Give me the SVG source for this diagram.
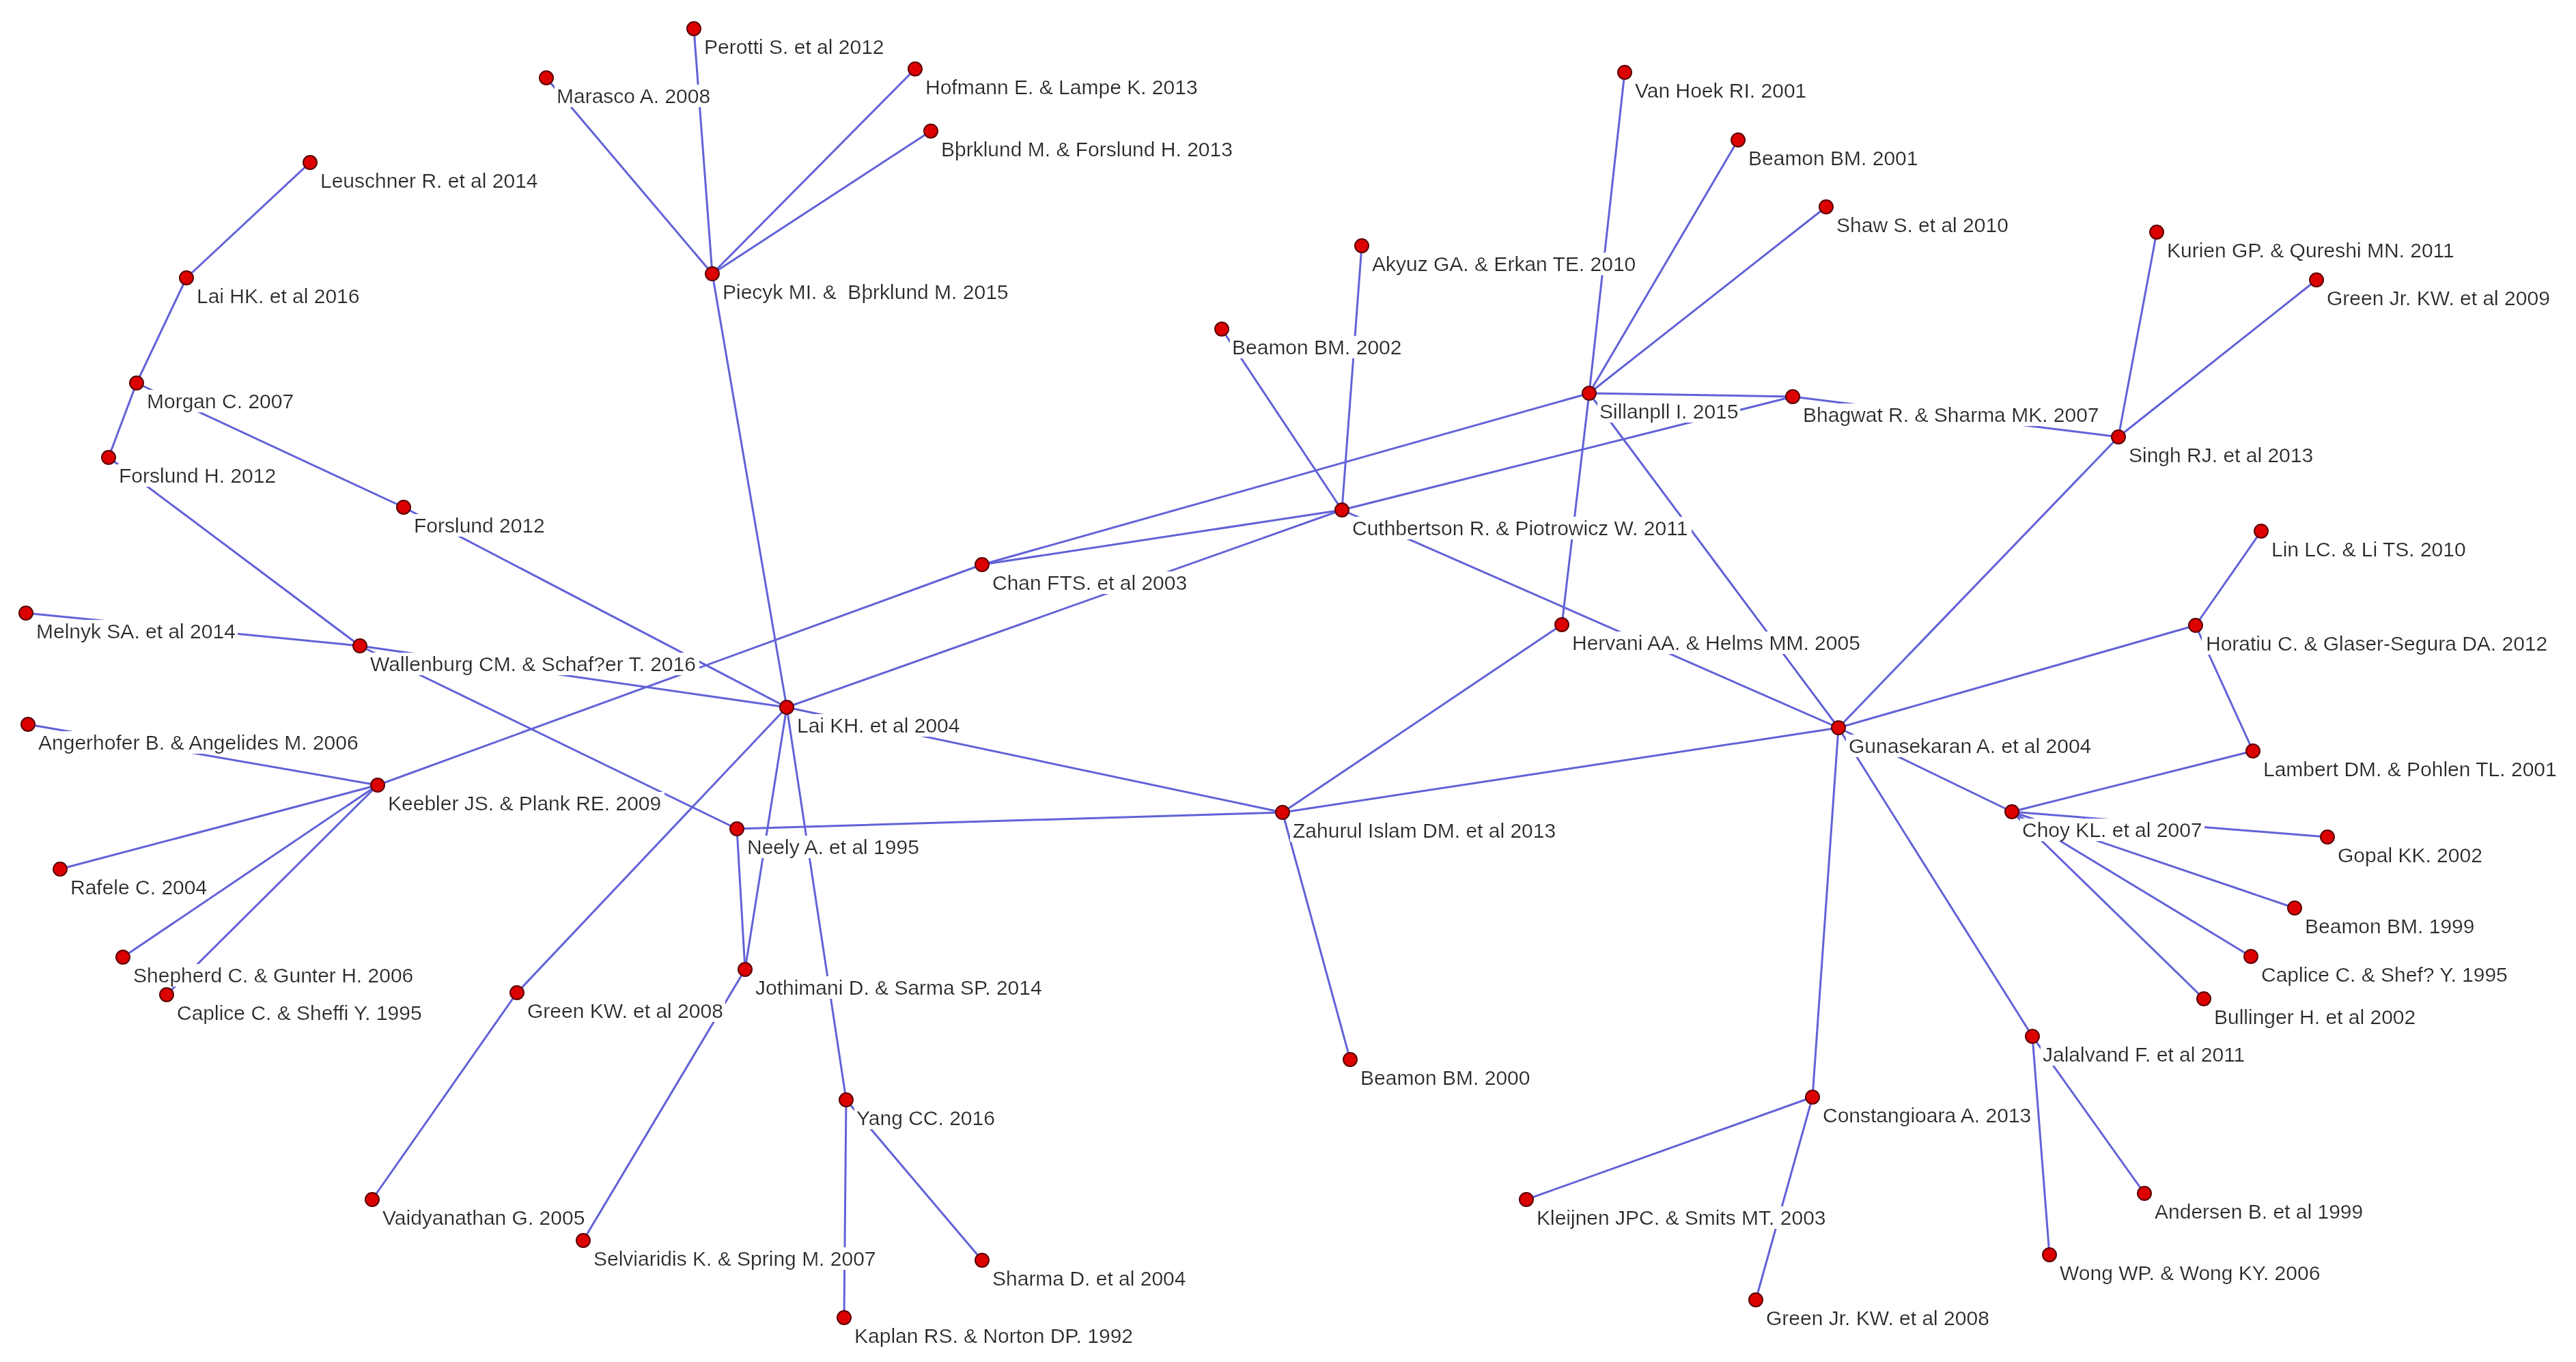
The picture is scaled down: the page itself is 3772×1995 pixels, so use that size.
<svg xmlns="http://www.w3.org/2000/svg" width="3772" height="1995" viewBox="0 0 3772 1995">
<style>
.e line{stroke:#6262d8;stroke-width:3;stroke-linecap:round}
.n circle{fill:#dd0000;stroke:#5a0000;stroke-width:2}
.n text{font-family:"Liberation Sans",Arial,sans-serif;font-size:30px;fill:#2b2b2b;filter:url(#bg)}
</style>
<defs>
<filter id="bg" x="-0.01" y="0" width="1.02" height="1"><feFlood flood-color="#ffffff"/><feComposite in="SourceGraphic" operator="over"/></filter>
</defs>
<rect width="3772" height="1995" fill="#ffffff"/>
<g id="connectors" class="e">
<line x1="454" y1="238" x2="273" y2="407"/>
<line x1="273" y1="407" x2="200" y2="561"/>
<line x1="200" y1="561" x2="159" y2="670"/>
<line x1="200" y1="561" x2="591" y2="743"/>
<line x1="591" y1="743" x2="1152" y2="1036"/>
<line x1="159" y1="670" x2="527" y2="946"/>
<line x1="38" y1="898" x2="527" y2="946"/>
<line x1="527" y1="946" x2="1152" y2="1036"/>
<line x1="527" y1="946" x2="1079" y2="1214"/>
<line x1="553" y1="1150" x2="1438" y2="827"/>
<line x1="553" y1="1150" x2="41" y2="1061"/>
<line x1="553" y1="1150" x2="88" y2="1273"/>
<line x1="553" y1="1150" x2="180" y2="1402"/>
<line x1="553" y1="1150" x2="244" y2="1457"/>
<line x1="1152" y1="1036" x2="1043" y2="401"/>
<line x1="1043" y1="401" x2="800" y2="114"/>
<line x1="1043" y1="401" x2="1016" y2="42"/>
<line x1="1043" y1="401" x2="1340" y2="101"/>
<line x1="1043" y1="401" x2="1363" y2="192"/>
<line x1="1152" y1="1036" x2="1965" y2="747"/>
<line x1="1152" y1="1036" x2="1878" y2="1190"/>
<line x1="1152" y1="1036" x2="757" y2="1454"/>
<line x1="757" y1="1454" x2="545" y2="1757"/>
<line x1="1152" y1="1036" x2="1091" y2="1420"/>
<line x1="1152" y1="1036" x2="1239" y2="1611"/>
<line x1="1079" y1="1214" x2="1091" y2="1420"/>
<line x1="1079" y1="1214" x2="1878" y2="1190"/>
<line x1="1091" y1="1420" x2="854" y2="1817"/>
<line x1="1239" y1="1611" x2="1236" y2="1930"/>
<line x1="1239" y1="1611" x2="1438" y2="1846"/>
<line x1="1438" y1="827" x2="2327" y2="576"/>
<line x1="1438" y1="827" x2="1965" y2="747"/>
<line x1="1965" y1="747" x2="1789" y2="482"/>
<line x1="1965" y1="747" x2="1994" y2="360"/>
<line x1="1965" y1="747" x2="2625" y2="581"/>
<line x1="1965" y1="747" x2="2692" y2="1066"/>
<line x1="2327" y1="576" x2="2379" y2="106"/>
<line x1="2327" y1="576" x2="2545" y2="205"/>
<line x1="2327" y1="576" x2="2674" y2="303"/>
<line x1="2327" y1="576" x2="2625" y2="581"/>
<line x1="2327" y1="576" x2="2287" y2="915"/>
<line x1="2327" y1="576" x2="2692" y2="1066"/>
<line x1="2625" y1="581" x2="3102" y2="640"/>
<line x1="3102" y1="640" x2="3158" y2="340"/>
<line x1="3102" y1="640" x2="3392" y2="410"/>
<line x1="3102" y1="640" x2="2692" y2="1066"/>
<line x1="2287" y1="915" x2="1878" y2="1190"/>
<line x1="1878" y1="1190" x2="2692" y2="1066"/>
<line x1="1878" y1="1190" x2="1977" y2="1552"/>
<line x1="2692" y1="1066" x2="3215" y2="916"/>
<line x1="3215" y1="916" x2="3311" y2="778"/>
<line x1="3215" y1="916" x2="3299" y2="1100"/>
<line x1="3299" y1="1100" x2="2946" y2="1189"/>
<line x1="2692" y1="1066" x2="2946" y2="1189"/>
<line x1="2946" y1="1189" x2="3408" y2="1226"/>
<line x1="2946" y1="1189" x2="3360" y2="1330"/>
<line x1="2946" y1="1189" x2="3296" y2="1401"/>
<line x1="2946" y1="1189" x2="3227" y2="1463"/>
<line x1="2692" y1="1066" x2="2976" y2="1518"/>
<line x1="2976" y1="1518" x2="3140" y2="1748"/>
<line x1="2976" y1="1518" x2="3001" y2="1838"/>
<line x1="2692" y1="1066" x2="2654" y2="1607"/>
<line x1="2654" y1="1607" x2="2235" y2="1757"/>
<line x1="2654" y1="1607" x2="2571" y2="1904"/>
</g>
<g id="marasco" class="n"><circle cx="800" cy="114" r="10"/><text x="815" y="151">Marasco A. 2008</text></g>
<g id="perotti" class="n"><circle cx="1016" cy="42" r="10"/><text x="1031" y="79">Perotti S. et al 2012</text></g>
<g id="hofmann" class="n"><circle cx="1340" cy="101" r="10"/><text x="1355" y="138">Hofmann E. &amp; Lampe K. 2013</text></g>
<g id="bjorklund" class="n"><circle cx="1363" cy="192" r="10"/><text x="1378" y="229">Bþrklund M. &amp; Forslund H. 2013</text></g>
<g id="piecyk" class="n"><circle cx="1043" cy="401" r="10"/><text x="1058" y="438">Piecyk MI. &amp;&#160; Bþrklund M. 2015</text></g>
<g id="leuschner" class="n"><circle cx="454" cy="238" r="10"/><text x="469" y="275">Leuschner R. et al 2014</text></g>
<g id="laihk2016" class="n"><circle cx="273" cy="407" r="10"/><text x="288" y="444">Lai HK. et al 2016</text></g>
<g id="morgan" class="n"><circle cx="200" cy="561" r="10"/><text x="215" y="598">Morgan C. 2007</text></g>
<g id="forslundh" class="n"><circle cx="159" cy="670" r="10"/><text x="174" y="707">Forslund H. 2012</text></g>
<g id="forslund2012" class="n"><circle cx="591" cy="743" r="10"/><text x="606" y="780">Forslund 2012</text></g>
<g id="melnyk" class="n"><circle cx="38" cy="898" r="10"/><text x="53" y="935">Melnyk SA. et al 2014</text></g>
<g id="wallenburg" class="n"><circle cx="527" cy="946" r="10"/><text x="542" y="983">Wallenburg CM. &amp; Schaf?er T. 2016</text></g>
<g id="angerhofer" class="n"><circle cx="41" cy="1061" r="10"/><text x="56" y="1098">Angerhofer B. &amp; Angelides M. 2006</text></g>
<g id="keebler" class="n"><circle cx="553" cy="1150" r="10"/><text x="568" y="1187">Keebler JS. &amp; Plank RE. 2009</text></g>
<g id="rafele" class="n"><circle cx="88" cy="1273" r="10"/><text x="103" y="1310">Rafele C. 2004</text></g>
<g id="shepherd" class="n"><circle cx="180" cy="1402" r="10"/><text x="195" y="1439">Shepherd C. &amp; Gunter H. 2006</text></g>
<g id="caplice1995a" class="n"><circle cx="244" cy="1457" r="10"/><text x="259" y="1494">Caplice C. &amp; Sheffi Y. 1995</text></g>
<g id="greenkw2008" class="n"><circle cx="757" cy="1454" r="10"/><text x="772" y="1491">Green KW. et al 2008</text></g>
<g id="vaidyanathan" class="n"><circle cx="545" cy="1757" r="10"/><text x="560" y="1794">Vaidyanathan G. 2005</text></g>
<g id="selviaridis" class="n"><circle cx="854" cy="1817" r="10"/><text x="869" y="1854">Selviaridis K. &amp; Spring M. 2007</text></g>
<g id="laikh2004" class="n"><circle cx="1152" cy="1036" r="10"/><text x="1167" y="1073">Lai KH. et al 2004</text></g>
<g id="neely" class="n"><circle cx="1079" cy="1214" r="10"/><text x="1094" y="1251">Neely A. et al 1995</text></g>
<g id="jothimani" class="n"><circle cx="1091" cy="1420" r="10"/><text x="1106" y="1457">Jothimani D. &amp; Sarma SP. 2014</text></g>
<g id="yang" class="n"><circle cx="1239" cy="1611" r="10"/><text x="1254" y="1648">Yang CC. 2016</text></g>
<g id="sharma" class="n"><circle cx="1438" cy="1846" r="10"/><text x="1453" y="1883">Sharma D. et al 2004</text></g>
<g id="kaplan" class="n"><circle cx="1236" cy="1930" r="10"/><text x="1251" y="1967">Kaplan RS. &amp; Norton DP. 1992</text></g>
<g id="chan" class="n"><circle cx="1438" cy="827" r="10"/><text x="1453" y="864">Chan FTS. et al 2003</text></g>
<g id="zahurul" class="n"><circle cx="1878" cy="1190" r="10"/><text x="1893" y="1227">Zahurul Islam DM. et al 2013</text></g>
<g id="beamon2000" class="n"><circle cx="1977" cy="1552" r="10"/><text x="1992" y="1589">Beamon BM. 2000</text></g>
<g id="beamon2002" class="n"><circle cx="1789" cy="482" r="10"/><text x="1804" y="519">Beamon BM. 2002</text></g>
<g id="akyuz" class="n"><circle cx="1994" cy="360" r="10"/><text x="2009" y="397">Akyuz GA. &amp; Erkan TE. 2010</text></g>
<g id="cuthbertson" class="n"><circle cx="1965" cy="747" r="10"/><text x="1980" y="784">Cuthbertson R. &amp; Piotrowicz W. 2011</text></g>
<g id="vanhoek" class="n"><circle cx="2379" cy="106" r="10"/><text x="2394" y="143">Van Hoek RI. 2001</text></g>
<g id="beamon2001" class="n"><circle cx="2545" cy="205" r="10"/><text x="2560" y="242">Beamon BM. 2001</text></g>
<g id="shaw" class="n"><circle cx="2674" cy="303" r="10"/><text x="2689" y="340">Shaw S. et al 2010</text></g>
<g id="sillanpaa" class="n"><circle cx="2327" cy="576" r="10"/><text x="2342" y="613">Sillanpll I. 2015</text></g>
<g id="bhagwat" class="n"><circle cx="2625" cy="581" r="10"/><text x="2640" y="618">Bhagwat R. &amp; Sharma MK. 2007</text></g>
<g id="hervani" class="n"><circle cx="2287" cy="915" r="10"/><text x="2302" y="952">Hervani AA. &amp; Helms MM. 2005</text></g>
<g id="gunasekaran" class="n"><circle cx="2692" cy="1066" r="10"/><text x="2707" y="1103">Gunasekaran A. et al 2004</text></g>
<g id="kurien" class="n"><circle cx="3158" cy="340" r="10"/><text x="3173" y="377">Kurien GP. &amp; Qureshi MN. 2011</text></g>
<g id="greenjr2009" class="n"><circle cx="3392" cy="410" r="10"/><text x="3407" y="447">Green Jr. KW. et al 2009</text></g>
<g id="singh" class="n"><circle cx="3102" cy="640" r="10"/><text x="3117" y="677">Singh RJ. et al 2013</text></g>
<g id="lin" class="n"><circle cx="3311" cy="778" r="10"/><text x="3326" y="815">Lin LC. &amp; Li TS. 2010</text></g>
<g id="horatiu" class="n"><circle cx="3215" cy="916" r="10"/><text x="3230" y="953">Horatiu C. &amp; Glaser-Segura DA. 2012</text></g>
<g id="lambert" class="n"><circle cx="3299" cy="1100" r="10"/><text x="3314" y="1137">Lambert DM. &amp; Pohlen TL. 2001</text></g>
<g id="choy" class="n"><circle cx="2946" cy="1189" r="10"/><text x="2961" y="1226">Choy KL. et al 2007</text></g>
<g id="gopal" class="n"><circle cx="3408" cy="1226" r="10"/><text x="3423" y="1263">Gopal KK. 2002</text></g>
<g id="beamon1999" class="n"><circle cx="3360" cy="1330" r="10"/><text x="3375" y="1367">Beamon BM. 1999</text></g>
<g id="caplice1995b" class="n"><circle cx="3296" cy="1401" r="10"/><text x="3311" y="1438">Caplice C. &amp; Shef? Y. 1995</text></g>
<g id="bullinger" class="n"><circle cx="3227" cy="1463" r="10"/><text x="3242" y="1500">Bullinger H. et al 2002</text></g>
<g id="jalalvand" class="n"><circle cx="2976" cy="1518" r="10"/><text x="2991" y="1555">Jalalvand F. et al 2011</text></g>
<g id="andersen" class="n"><circle cx="3140" cy="1748" r="10"/><text x="3155" y="1785">Andersen B. et al 1999</text></g>
<g id="wong" class="n"><circle cx="3001" cy="1838" r="10"/><text x="3016" y="1875">Wong WP. &amp; Wong KY. 2006</text></g>
<g id="constangioara" class="n"><circle cx="2654" cy="1607" r="10"/><text x="2669" y="1644">Constangioara A. 2013</text></g>
<g id="kleijnen" class="n"><circle cx="2235" cy="1757" r="10"/><text x="2250" y="1794">Kleijnen JPC. &amp; Smits MT. 2003</text></g>
<g id="greenjr2008" class="n"><circle cx="2571" cy="1904" r="10"/><text x="2586" y="1941">Green Jr. KW. et al 2008</text></g>
</svg>
